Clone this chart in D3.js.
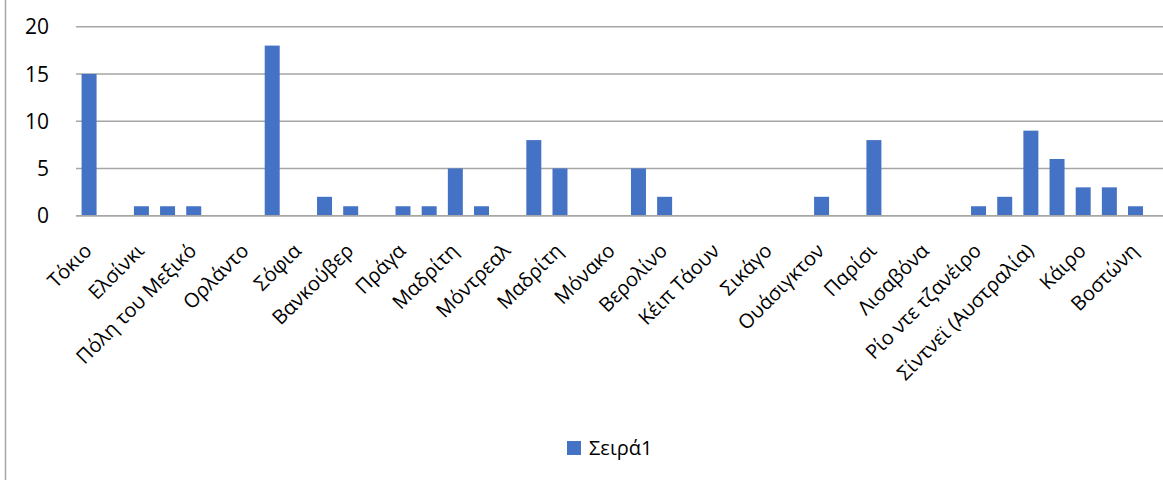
<!DOCTYPE html>
<html>
<head>
<meta charset="utf-8">
<script src="https://cdn.jsdelivr.net/npm/d3@7"></script>
<style>
  html, body { margin: 0; padding: 0; background: #fff; }
  svg { display: block; font-family: "Open Sans", "Noto Sans", sans-serif; }
</style>
</head>
<body>
<div id="chart"></div>
<script>
// Categories (only every second label is shown on the axis; hidden ones unreadable)
const categories = [
  "Τόκιο", "", "Ελσίνκι", "", "Πόλη του Μεξικό", "", "Ορλάντο", "", "Σόφια", "",
  "Βανκούβερ", "", "Πράγα", "", "Μαδρίτη", "", "Μόντρεαλ", "", "Μαδρίτη", "",
  "Μόνακο", "", "Βερολίνο", "", "Κέιπ Τάουν", "", "Σικάγο", "", "Ουάσιγκτον", "",
  "Παρίσι", "", "Λισαβόνα", "", "Ρίο ντε τζανέιρο", "", "Σίντνεϊ (Αυστραλία)", "", "Κάιρο", "",
  "Βοστώνη"
];
const values = [
  15, 0, 1, 1, 1, 0, 0, 18, 0, 2,
  1, 0, 1, 1, 5, 1, 0, 8, 5, 0,
  0, 5, 2, 0, 0, 0, 0, 0, 2, 0,
  8, 0, 0, 0, 1, 2, 9, 6, 3, 3,
  1
];
const yTicks = [0, 5, 10, 15, 20];
const seriesName = "Σειρά1";

const W = 1163, H = 480;
const plot = { left: 76, right: 1148.6, top: 26.7, bottom: 215.7 };
const barColor = "#4472C4";
const gridColor = "#a6a6a6";

const svg = d3.select("#chart").append("svg")
  .attr("width", W).attr("height", H);

// chart border (left edge visible)
svg.append("line")
  .attr("x1", 5.5).attr("x2", 5.5).attr("y1", 0).attr("y2", H)
  .attr("stroke", "#a6a6a6").attr("stroke-width", 1.5);

const idx = d3.range(categories.length);
const x = d3.scaleBand()
  .domain(idx)
  .range([plot.left, plot.right])
  .paddingInner(0.427)
  .paddingOuter(0.2135);

const y = d3.scaleLinear()
  .domain([0, 20])
  .range([plot.bottom, plot.top]);

// gridlines
svg.append("g")
  .selectAll("line")
  .data(yTicks)
  .join("line")
  .attr("x1", plot.left).attr("x2", W)
  .attr("y1", d => y(d)).attr("y2", d => y(d))
  .attr("stroke", gridColor).attr("stroke-width", 1.5);

// y tick labels
svg.append("g")
  .selectAll("text")
  .data(yTicks)
  .join("text")
  .attr("x", 49)
  .attr("y", d => y(d))
  .attr("dy", "0.36em")
  .attr("text-anchor", "end")
  .attr("font-size", 21)
  .attr("fill", "#000")
  .text(d => d);

// bars
svg.append("g")
  .selectAll("rect")
  .data(values.map((v, i) => ({ v, i })))
  .join("rect")
  .attr("x", d => x(d.i))
  .attr("width", x.bandwidth())
  .attr("y", d => y(d.v))
  .attr("height", d => y(0) - y(d.v))
  .attr("fill", barColor);

// zero axis line on top
svg.append("line")
  .attr("x1", plot.left).attr("x2", W)
  .attr("y1", y(0)).attr("y2", y(0))
  .attr("stroke", gridColor).attr("stroke-width", 1.5);

// category labels (every second)
svg.append("g")
  .selectAll("text")
  .data(idx.filter(i => i % 2 === 0))
  .join("text")
  .attr("transform", i => `translate(${x(i) + x.bandwidth() / 2 + 4},252) rotate(-45)`)
  .attr("text-anchor", "end")
  .attr("font-size", 20)
  .attr("fill", "#000")
  .text(i => categories[i]);

// legend
const lg = svg.append("g");
lg.append("rect")
  .attr("x", 567).attr("y", 441).attr("width", 14).attr("height", 14)
  .attr("fill", barColor);
lg.append("text")
  .attr("x", 589).attr("y", 455)
  .attr("font-size", 20)
  .attr("fill", "#000")
  .text(seriesName);
</script>
</body>
</html>
